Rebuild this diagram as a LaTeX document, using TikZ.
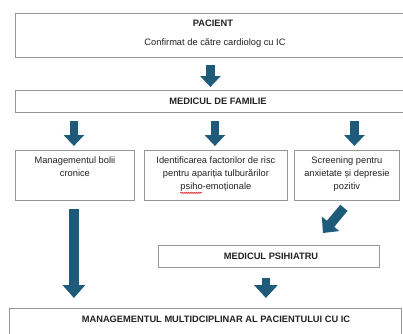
\documentclass[tikz,border=0pt]{standalone}
\usepackage{fontspec}
\setmainfont{Liberation Sans}
\usetikzlibrary{arrows.meta,calc,decorations.pathmorphing}
\definecolor{arrowblue}{RGB}{30,91,122}
\definecolor{boxgray}{RGB}{150,150,150}
\definecolor{txt}{RGB}{35,35,35}
\begin{document}
\begin{tikzpicture}[x=1pt,y=-1pt,
  box/.style={draw=boxgray, line width=0.8pt, inner sep=0pt, anchor=north west, text=txt},
  headfont/.style={font=\bfseries\fontsize{9.3}{11}\selectfont, text=txt},
  bodyfont/.style={font=\fontsize{9.3}{13}\selectfont, text=txt, align=center, inner sep=0pt},
  bigarrow/.style={draw=arrowblue, line width=8.5pt, -{Triangle[width=20pt,length=11pt]}, arrowblue},
  spellwave/.style={draw=red!85!black, line width=0.5pt, decorate, decoration={snake, amplitude=0.6pt, segment length=2pt}}]
\useasboundingbox (0,0) rectangle (403,333);
\fill[white] (0,0) rectangle (403,333);

% boxes
\node[box, minimum width=396pt, minimum height=44pt] (pac) at (15,13) {};
\node[headfont] (pact) at (213,23) {PACIENT};
\node[bodyfont] (pacs) at (215,43) {Confirmat de către cardiolog cu IC};

\node[box, minimum width=400pt, minimum height=22pt] (fam) at (15,90) {};
\node[headfont] (famt) at (218,101) {MEDICUL DE FAMILIE};

\node[box, minimum width=119pt, minimum height=50pt] (b1) at (15,150) {};
\node[bodyfont, anchor=north] (b1t) at ($(b1.north)+(0,6.5)$) {Managementul bolii\\cronice};

\node[box, minimum width=143pt, minimum height=50pt] (b2) at (144,150) {};
\node[bodyfont, anchor=north] (b2t) at ($(b2.north)+(0,6.5)$) {Identificarea factorilor de risc\\pentru apariția tulburărilor};
\node[bodyfont, anchor=north] (b2l3) at ($(b2t.south)+(0,4.4)$) {psiho-emoționale};
\draw[spellwave] ($(b2l3.south west)+(0,0.8)$) -- ($(b2l3.south west)+(22,0.8)$);

\node[box, minimum width=105pt, minimum height=50pt] (b3) at (294,150) {};
\node[bodyfont, anchor=north] (b3t) at ($(b3.north)+(0,6.5)$) {Screening pentru\\anxietate și depresie\\pozitiv};

\node[box, minimum width=221pt, minimum height=22pt] (psi) at (158,245) {};
\node[headfont] (psit) at (271,256) {MEDICUL PSIHIATRU};

\node[box, minimum width=392pt, minimum height=40pt] (mgmt) at (9,308) {};
\node[headfont] (mgmtt) at (216,319) {MANAGEMENTUL MULTIDCIPLINAR AL PACIENTULUI CU IC};

% arrows
\draw[bigarrow] ($(pac.south)+(-3,7)$) -- ($(fam.north)+(-5,-3)$);
\draw[bigarrow] ($(fam.south -| b1.north)+(-1,8)$) -- ($(b1.north)+(-1,-4)$);
\draw[bigarrow] ($(fam.south -| b2.north)+(-1,8)$) -- ($(b2.north)+(-1,-4)$);
\draw[bigarrow] ($(fam.south -| b3.north)+(7.5,8)$) -- ($(b3.north)+(7.5,-4)$);
\draw[bigarrow, line width=10pt, -{Triangle[width=22pt,length=13pt]}] ($(b1.south)+(-1,8)$) -- ($(mgmt.north -| b1.south)+(-1,-10)$);
\draw[bigarrow, line width=9.5pt, -{Triangle[width=22pt,length=12pt]}] ($(b3.south)+(-3,7)$) -- ($(psi.north)+(54,-12)$);
\draw[bigarrow, -{Triangle[width=23pt,length=13pt]}] ($(psi.south)+(-3,10)$) -- ($(mgmt.north -| psi.south)+(-3,-10)$);
\end{tikzpicture}
\end{document}
